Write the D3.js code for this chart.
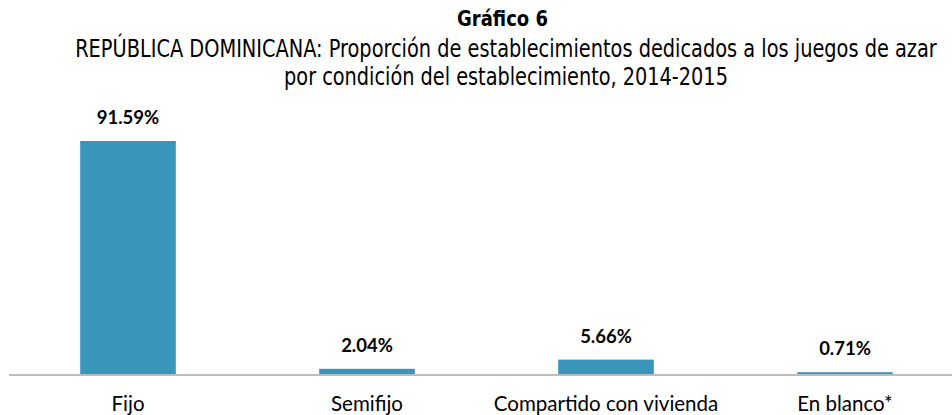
<!DOCTYPE html>
<html><head><meta charset="utf-8">
<script src="https://cdn.jsdelivr.net/npm/d3@7"></script>
<style>body{margin:0;background:#fff;} svg{display:block;}</style>
</head><body>
<svg id="c" width="952" height="415"></svg>
<script>
const categories = ["Fijo", "Semifijo", "Compartido con vivienda", "En blanco*"];
const values = [91.59, 2.04, 5.66, 0.71];
const valueLabels = ["91.59%", "2.04%", "5.66%", "0.71%"];
const titleText = "Gráfico 6";
const subtitleLines = ["REPÚBLICA DOMINICANA: Proporción de establecimientos dedicados a los juegos de azar",
  "por condición del establecimiento, 2014-2015"];
const subtitleWidths = [862, 444];

const svg = d3.select("#c");
const condFont = "'DejaVu Sans Condensed','Roboto',sans-serif";
const bodyFont = "'Lato','Open Sans',sans-serif";

const x = d3.scaleBand().domain(categories).range([8.5, 964.5]).paddingInner(0).paddingOuter(0);
const y = d3.scaleLinear().domain([0, 100]).range([374, 119.6]);
const barFrac = 0.4;

// condensed text: horizontally scale to a target width
function condensed(sel, cx, cy, target) {
  const nat = sel.node().getComputedTextLength();
  const s = Math.min(1, target / nat);
  sel.attr("x", 0).attr("y", 0).attr("text-anchor", "middle")
    .attr("transform", `translate(${cx},${cy}) scale(${s},1)`);
}

// title
const t = svg.append("text").attr("font-family", condFont).attr("font-weight", "bold")
  .attr("font-size", 22).attr("fill", "#000").text(titleText);
condensed(t, 502.5, 25.5, 91);

subtitleLines.forEach((line, i) => {
  const s = svg.append("text").attr("font-family", condFont).attr("font-size", 24.5)
    .attr("fill", "#000").text(line);
  condensed(s, 506, 57 + i * 28, subtitleWidths[i]);
});

// bars
const bw = x.bandwidth() * barFrac;
svg.selectAll("rect.bar").data(categories).join("rect").attr("class", "bar")
  .attr("x", d => x(d) + (x.bandwidth() - bw) / 2)
  .attr("width", bw)
  .attr("y", (d, i) => y(values[i]))
  .attr("height", (d, i) => y(0) - y(values[i]))
  .attr("fill", "#3a95bb");

// axis line
const axis = svg.append("g").attr("transform", `translate(0,${y(0) + 1})`)
  .call(d3.axisBottom(x).tickSize(0).tickPadding(0));
axis.select(".domain").attr("stroke", "#a6a6a6").attr("stroke-width", 1.5).attr("d", "M9,0H952");
axis.selectAll(".tick text").attr("font-family", bodyFont).attr("font-size", 20.5)
  .attr("fill", "#000").attr("dy", 0).attr("y", 36);

// value labels
svg.selectAll("text.val").data(categories).join("text").attr("class", "val")
  .attr("x", d => x(d) + x.bandwidth() / 2)
  .attr("y", (d, i) => y(values[i]) - 17)
  .attr("text-anchor", "middle").attr("font-family", bodyFont).attr("font-weight", "bold")
  .attr("font-size", 18.5).attr("fill", "#000").text((d, i) => valueLabels[i]);
</script>
</body></html>
